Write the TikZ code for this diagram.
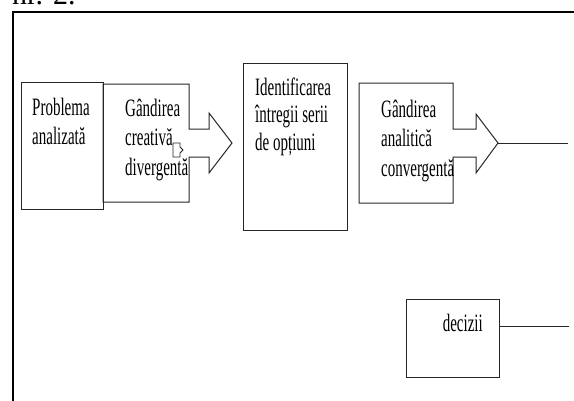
\documentclass[tikz,border=0pt]{standalone}
\usepackage{fontspec}
\setmainfont{Liberation Serif}
\newfontfamily\narrowserif[FakeStretch=0.6]{Liberation Serif}
% stacked lines whose reference point is the first baseline
\newcommand\stacklines[1]{\begin{tabular}[t]{@{}l@{}}#1\end{tabular}}
\tikzset{
  frameline/.style={line width=2.5pt, black},
  outline/.style={line width=1pt, draw=black!85, line join=miter},
  boxlabel/.style={font=\narrowserif\fontsize{25}{29.5}\selectfont,
                   inner sep=0pt, anchor=base west, text=black},
  titlelabel/.style={font=\fontsize{30}{30}\selectfont,
                   inner sep=0pt, anchor=base west, text=black},
}
\begin{document}
\begin{tikzpicture}[x=1pt,y=-1pt]
\useasboundingbox (0,0) rectangle (574,400);

% heading, mostly above the page edge
\node[titlelabel] (title) at (12,4) {nr. 2.};

% outer frame
\draw[frameline] (13,420) -- (13,12) -- (600,12);

% first box
\draw[outline] (21,82) rectangle (103,209);
\node[boxlabel] (problem) at (32,115) {\stacklines{Problema\\analizată}};

% creative thinking block with its outgoing arrow
\draw[outline] (103,84) -- (189,84) -- (189,129) -- (209,129) -- (209,113)
  -- (232,143) -- (209,173) -- (209,157) -- (189,157) -- (189,202)
  -- (103,202) -- cycle;
\node[boxlabel] (creative) at (125,116)
  {\stacklines{Gândirea\\creativă\\divergentă}};
\draw[outline, line width=0.8pt] (173,143) -- (180,143) -- (180,147) -- (183,150)
  -- (180,153) -- (180,157) -- (173,157) -- cycle;

% options box
\draw[outline] (243,63) rectangle (347,230);
\node[boxlabel, font=\narrowserif\fontsize{25}{27.5}\selectfont] (options) at (255,95)
  {\stacklines{Identificarea\\întregii serii\\de opțiuni}};

% analytic thinking block with its outgoing arrow
\draw[outline] (359,83) -- (453,83) -- (453,129) -- (476,129) -- (476,114)
  -- (498,143) -- (476,173) -- (476,157) -- (453,157) -- (453,203)
  -- (359,203) -- cycle;
\node[boxlabel] (analytic) at (381,117)
  {\stacklines{Gândirea\\analitică\\convergentă}};
\coordinate (tip) at (498,143);
\coordinate (tipend) at (568,143);
\draw[outline] (tip) -- (tipend);

% decisions box
\draw[outline] (406,299) rectangle (499,377);
\node[boxlabel, anchor=base east] (decisions) at (483,331) {decizii};
\coordinate (decout) at (499,326);
\coordinate (decend) at (569,326);
\draw[outline] (decout) -- (decend);
\end{tikzpicture}
\end{document}
